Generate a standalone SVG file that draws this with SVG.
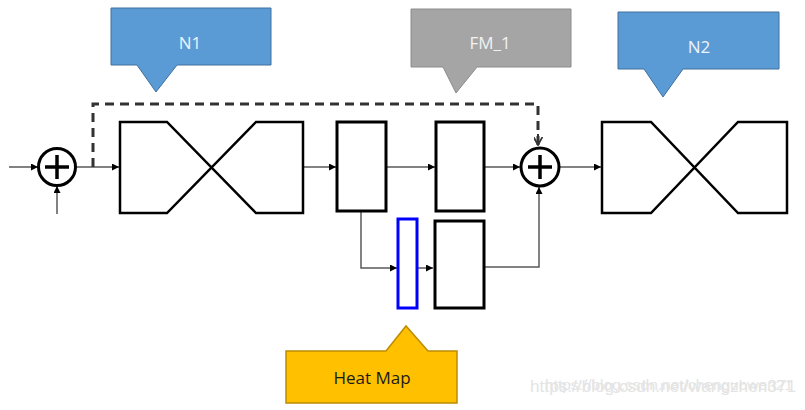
<svg xmlns="http://www.w3.org/2000/svg" width="805" height="410" viewBox="0 0 805 410">
<defs>
<style>
.blk{fill:#fff;stroke:#000;stroke-width:3}
.bow{fill:none;stroke:#000;stroke-width:2.5;stroke-linejoin:miter}
.ln{fill:none;stroke:#595959;stroke-width:1.5}
.dash{fill:none;stroke:#333;stroke-width:3;stroke-dasharray:9,6}
.sum{fill:#fff;stroke:#000;stroke-width:3}
.plus{stroke:#000;stroke-width:3.5}
.lbl{font-family:"Open Sans","Noto Sans",sans-serif;font-size:17px;text-anchor:middle}
.wm{font-family:"Liberation Sans",sans-serif;font-size:16px;fill:#e4e4e4}
</style>
<marker id="ah" viewBox="0 0 10 10" refX="10" refY="5" markerWidth="7" markerHeight="7" markerUnits="userSpaceOnUse" orient="auto">
<path d="M0,0 L10,5 L0,10 z" fill="#000"/>
</marker>
<marker id="ahd" viewBox="0 0 10 10" refX="9" refY="5" markerWidth="9" markerHeight="9" markerUnits="userSpaceOnUse" orient="auto">
<path d="M0,0 L9,5 L0,10" fill="none" stroke="#333" stroke-width="2"/>
</marker>
</defs>
<rect width="805" height="410" fill="#fff"/>

<g id="connectors">
<line class="ln" x1="9" y1="167" x2="38" y2="167" marker-end="url(#ah)"/>
<line class="ln" x1="57" y1="214" x2="57" y2="186" marker-end="url(#ah)"/>
<line class="ln" x1="76" y1="167" x2="119" y2="167" marker-end="url(#ah)"/>
<line class="ln" x1="304" y1="167" x2="336" y2="167" marker-end="url(#ah)"/>
<line class="ln" x1="386" y1="167" x2="435" y2="167" marker-end="url(#ah)"/>
<line class="ln" x1="485" y1="167" x2="520" y2="167" marker-end="url(#ah)"/>
<line class="ln" x1="560" y1="167" x2="601" y2="167" marker-end="url(#ah)"/>
<polyline class="ln" points="361,212 361,268 397,268" marker-end="url(#ah)"/>
<line class="ln" x1="418" y1="268" x2="433" y2="268" marker-end="url(#ah)"/>
<polyline class="ln" points="485,267 539,267 539,187" marker-end="url(#ah)"/>
<polyline class="dash" points="93,167 93,104 538,104 538,145"/>
<line x1="538" y1="134" x2="538" y2="145" stroke="#333" stroke-width="2" marker-end="url(#ahd)"/>
</g>

<g id="sum1">
<circle class="sum" cx="57" cy="167" r="18.5"/>
<line class="plus" x1="45" y1="167" x2="69" y2="167"/>
<line class="plus" x1="57" y1="155" x2="57" y2="179"/>
</g>

<g id="n1-block">
<polygon class="bow" points="167,122 120,122 120,213 167,213 256,122 303,122 303,213 256,213"/>
</g>

<g id="rect1"><rect class="blk" x="337" y="122" width="49" height="89"/></g>
<g id="rect2"><rect class="blk" x="436" y="122" width="48" height="89"/></g>
<g id="heatmap-rect"><rect x="398" y="219" width="19" height="89" fill="#fff" stroke="#0000ff" stroke-width="3"/></g>
<g id="rect3"><rect class="blk" x="435" y="221" width="49" height="87"/></g>

<g id="sum2">
<circle class="sum" cx="540" cy="167" r="19"/>
<line class="plus" x1="528" y1="167" x2="552" y2="167"/>
<line class="plus" x1="540" y1="155" x2="540" y2="179"/>
</g>

<g id="n2-block">
<polygon class="bow" points="651,122 602,122 602,213 651,213 738,122 787,122 787,213 738,213"/>
</g>

<g id="callout-n1">
<path d="M111,8 H271 V65 H177 L156,92 L137,65 H111 Z" fill="#5B9BD5" stroke="#41719C" stroke-width="1"/>
<text class="lbl" x="190" y="49" fill="#eef3fa">N1</text>
</g>
<g id="callout-fm1">
<path d="M411,9 H571 V67 H477 L456,93 L443,67 H411 Z" fill="#A5A5A5" stroke="#8c8c8c" stroke-width="1"/>
<text class="lbl" x="490" y="49" fill="#f2f2f2">FM_1</text>
</g>
<g id="callout-n2">
<path d="M618,12 H779 V69 H683 L663,97 L644,69 H618 Z" fill="#5B9BD5" stroke="#41719C" stroke-width="1"/>
<text class="lbl" x="699" y="53" fill="#eef3fa">N2</text>
</g>
<g id="callout-heatmap">
<path d="M286,351 H386 L406,326 L428,351 H457 V403 H286 Z" fill="#FFC000" stroke="#BC8C00" stroke-width="1.5"/>
<text class="lbl" x="372" y="384" fill="#1a1a1a">Heat Map</text>
</g>

<text class="wm" x="530" y="392" textLength="266" lengthAdjust="spacingAndGlyphs" style="font-size:17px">https://blog.csdn.net/wangzhen371</text>
<text class="wm" x="545" y="390" textLength="248" lengthAdjust="spacingAndGlyphs" style="font-size:15px">https://blog.csdn.net/chenguowen21</text>
</svg>
